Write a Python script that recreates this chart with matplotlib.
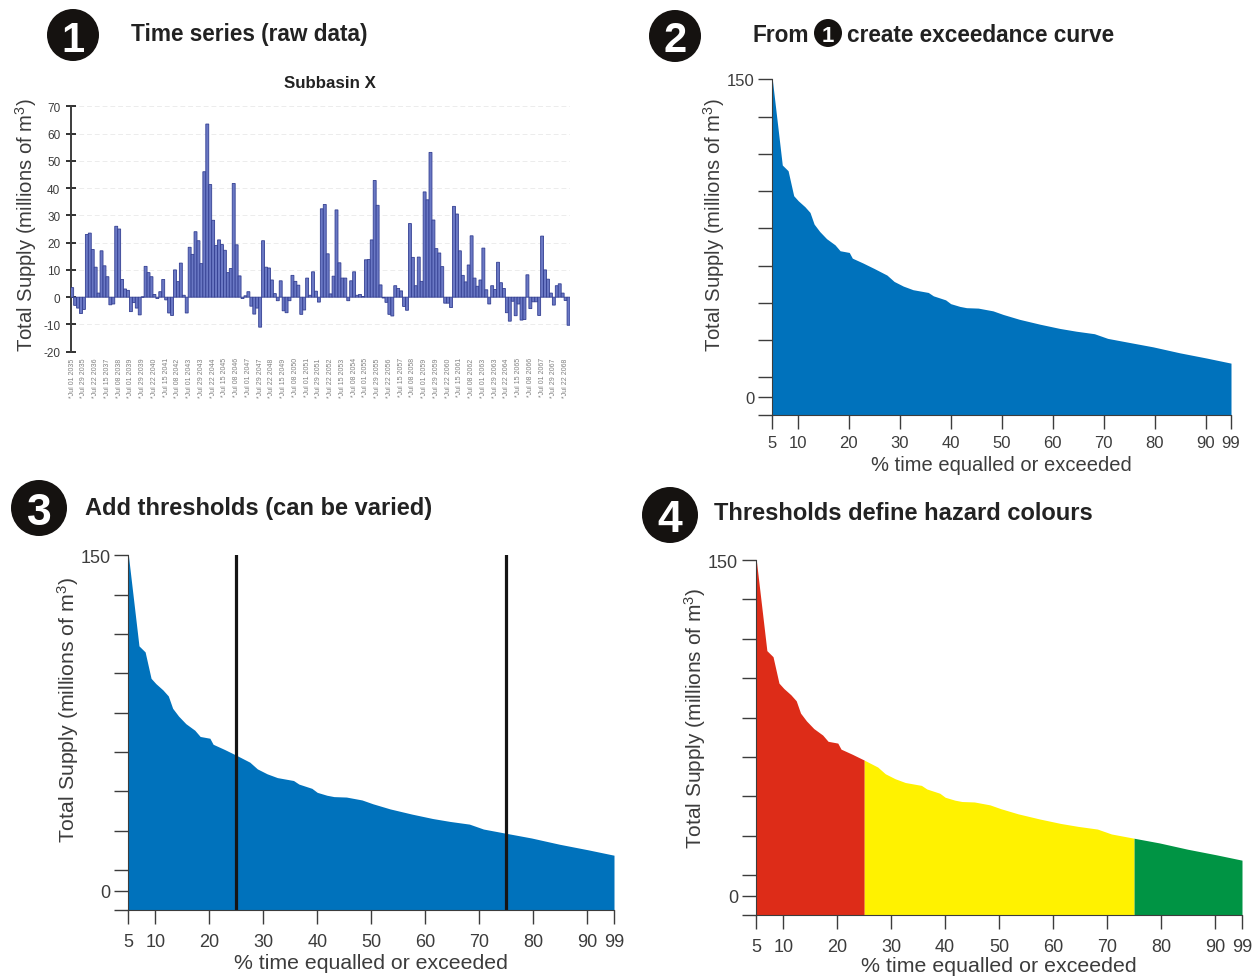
import numpy as np
import matplotlib
matplotlib.use("Agg")
import matplotlib.pyplot as plt
from matplotlib.patches import Circle

plt.rcParams["font.family"] = ["Liberation Sans", "DejaVu Sans"]
plt.rcParams["mathtext.fontset"] = "custom"
plt.rcParams["mathtext.rm"] = "Liberation Sans"
plt.rcParams["mathtext.default"] = "regular"
plt.rcParams["axes.unicode_minus"] = False

W, H = 1257, 979

# panel 1: raw supply per time step
supply = [3.5, -3, -4, -6, -4.5, 23, 23.5, 17.5, 11, 1.5,
          17, 11.5, 7.5, -2.8, -2.5, 26, 25, 6.5, 3, 2.5,
          -5.3, -2, -4, -6.5, 0.1, 11.3, 9, 7.5, 1, -0.5,
          2, 6.5, -1, -5.8, -6.7, 10, 5.7, 12.5, 0.7, -5.8,
          18.3, 15.7, 24, 20.7, 12.3, 46, 63.5, 41.3, 28.2, 19,
          21, 19.3, 17.2, 9, 10.5, 41.7, 19.2, 7.8, -0.5, 0.5,
          2, -3.3, -6.2, -4, -11, 20.7, 11, 10.7, 6.3, 1.3,
          -1.3, 6, -5, -5.7, -1.3, 8, 5.8, 4.4, -6.3, -4.7,
          7, 0.7, 9.3, 2.2, -1.8, 32.4, 34, 15.9, 1.2, 7.7,
          32, 12.6, 7, 7, -1.3, 6, 9.3, 0.7, 1, 0.2,
          13.7, 13.8, 21, 42.8, 33.7, 4.5, -0.3, -1.9, -6.3, -6.9,
          4.2, 3.2, 2.3, -3.4, -4.8, 27, 14.6, 4.2, 14.7, 5.8,
          38.6, 35.7, 53.1, 28.3, 17.8, 16.2, 11.2, -2.2, -2.2, -3.8,
          33.3, 30.5, 17, 8, 5.6, 11.8, 22.5, 7, 4, 6.3,
          18, 2.7, -2.5, 4.2, 2.8, 12.8, 5.3, 3.2, -5.7, -8.8,
          -1.5, -6.8, -2.5, -8.4, -8.2, 8.2, -4.2, -1.7, -1.7, -6.7,
          22.4, 10, 6.6, 1.5, -2.9, 4.2, 4.9, 1.5, -1.2, -10.3]
date_labels = ["*Jul 01 2035", "*Jul 29 2035", "*Jul 22 2036", "*Jul 15 2037", "*Jul 08 2038",
               "*Jul 01 2039", "*Jul 29 2039", "*Jul 22 2040", "*Jul 15 2041", "*Jul 08 2042",
               "*Jul 01 2043", "*Jul 29 2043", "*Jul 22 2044", "*Jul 15 2045", "*Jul 08 2046",
               "*Jul 01 2047", "*Jul 29 2047", "*Jul 22 2048", "*Jul 15 2049", "*Jul 08 2050",
               "*Jul 01 2051", "*Jul 29 2051", "*Jul 22 2052", "*Jul 15 2053", "*Jul 08 2054",
               "*Jul 01 2055", "*Jul 29 2055", "*Jul 22 2056", "*Jul 15 2057", "*Jul 08 2058",
               "*Jul 01 2059", "*Jul 29 2059", "*Jul 22 2060", "*Jul 15 2061", "*Jul 08 2062",
               "*Jul 01 2063", "*Jul 29 2063", "*Jul 22 2064", "*Jul 15 2065", "*Jul 08 2066",
               "*Jul 01 2067", "*Jul 29 2067", "*Jul 22 2068"]

# panels 2-4: exceedance curve
pct = [5, 6.96, 8.1, 9.2, 10.1, 11.4, 12.4, 13.2, 14.3, 15.65,
       17.3, 18.3, 20.1, 20.7, 22.8, 25, 27.5, 28.9, 30.7, 32.6,
       35.6, 36.6, 39, 40, 41.8, 43.1, 45.4, 48.3, 50.3, 53.5,
       57.5, 61.4, 64.6, 68.2, 70.8, 75, 79.7, 84.9, 90.4, 99]
flow = [150, 109.5, 106.8, 95, 92.6, 89.8, 87.1, 81.6, 78.1, 74.7,
        71.8, 69, 68.2, 65.5, 63.2, 60.6, 57.5, 54.5, 52.3, 50.6,
        49.3, 47.7, 45.8, 44, 42.7, 42.1, 41.9, 40.6, 38.9, 36.6,
        34.3, 32.3, 31, 29.8, 27.6, 25.7, 23.6, 20.8, 18.3, 15.9]
pct_ticks = [5, 10, 20, 30, 40, 50, 60, 70, 80, 90, 99]
supply_ticks = [150, 132.4, 114.8, 97.2, 79.6, 62, 44.4, 26.8, 9.2, 0, -8.6]
thresholds = [25, 75]

pct = np.array(pct)
flow = np.array(flow)

BLUE = "#0072bc"
RED = "#dd2c18"
YELLOW = "#fff200"
GREEN = "#009444"
DARK = "#222222"
GREY = "#3c3c3c"
YLABEL = "Total Supply (millions of m$^{3}$)"


def fwd(x):
    # last stretch of the axis (90-99) is squeezed
    return np.interp(x, [0, 90, 99], [0, 90, 95])


def inv(x):
    return np.interp(x, [0, 90, 95], [0, 90, 99])


def box(fig, l, r, t, b):
    return fig.add_axes([l / W, 1 - b / H, (r - l) / W, (b - t) / H])


def curve_axes(fig, l, r, t, b, fs, xlab_fs, ylab_fs, ylab_x, ylab_y, xlab_y, xpad):
    ax = box(fig, l, r, t, b)
    ax.set_xscale("function", functions=(fwd, inv))
    ax.set_xlim(5, 99)
    ax.set_ylim(-8.6, 150)
    ax.set_xticks(pct_ticks)
    ax.set_xticklabels([str(p) for p in pct_ticks])
    ax.xaxis.set_minor_locator(plt.NullLocator())
    ax.set_yticks(supply_ticks)
    ax.set_yticklabels(["150" if v == 150 else "0" if v == 0 else "" for v in supply_ticks])
    ax.tick_params(axis="both", length=10, width=1.0, color=GREY, labelcolor=GREY,
                   labelsize=fs, pad=3)
    ax.tick_params(axis="x", pad=xpad)
    ax.spines["top"].set_visible(False)
    ax.spines["right"].set_visible(False)
    ax.spines["left"].set_color(GREY)
    ax.spines["bottom"].set_color(GREY)
    ax.set_xlabel("% time equalled or exceeded", fontsize=xlab_fs, color=GREY)
    ax.xaxis.set_label_coords(0.5, (b - xlab_y) / (b - t), transform=ax.transAxes)
    ax.xaxis.label.set_va("center")
    ax.set_ylabel(YLABEL, fontsize=ylab_fs, color=GREY)
    ax.yaxis.set_label_coords((ylab_x - l) / (r - l), (b - ylab_y) / (b - t), transform=ax.transAxes)
    ax.yaxis.label.set_va("center")
    return ax


fig = plt.figure(figsize=(W / 100, H / 100), dpi=100)

# 1 - bars
ax1 = box(fig, 70.7, 570, 107.3, 352.7)
pos = np.arange(len(supply)) + 0.5
bars = ax1.bar(pos, supply, width=1.0, color="#6a78c4", edgecolor="#333f92", linewidth=0.6, zorder=3)
for p in bars:
    p.set_snap(False)
ax1.set_xlim(0, len(supply))
ax1.set_ylim(-20, 70)
ax1.set_yticks(np.arange(-20, 71, 10))
ax1.set_xticks(pos[::4])
ax1.set_xticklabels(date_labels, rotation=90, fontsize=5, color="#808080")
ax1.tick_params(axis="x", length=0, pad=4)
ax1.tick_params(axis="y", which="major", length=7, width=1.3, direction="inout",
                color=DARK, labelsize=8.5, labelcolor=GREY, pad=4)
ax1.grid(axis="y", color="#ececec", linestyle=(0, (5, 3)), linewidth=0.7, zorder=0)
for s in ["top", "right", "bottom"]:
    ax1.spines[s].set_visible(False)
ax1.spines["left"].set_color(GREY)
ax1.spines["left"].set_linewidth(1.4)
ax1.set_ylabel(YLABEL, fontsize=14.6, color=GREY)
ax1.yaxis.set_label_coords((26 - 70.7) / 499.3, (352.7 - 225) / 245.4, transform=ax1.transAxes)
ax1.yaxis.label.set_va("center")
ax1.set_title("Subbasin X", fontsize=12.2, fontweight="bold", color=DARK, y=1.077, pad=0,
              x=(329.5 - 70.7) / 499.3)

# 2 - exceedance curve
ax2 = curve_axes(fig, 772.3, 1231, 80.3, 416, 12, 14.5, 14.6, 714, 225, 466, 4.5)
ax2.fill_between(pct, flow, -8.6, color=BLUE, linewidth=0)

# 3 - thresholds
ax3 = curve_axes(fig, 128.4, 614, 556.3, 911, 13, 15.3, 15.3, 68, 710, 964, 6.5)
ax3.fill_between(pct, flow, -8.6, color=BLUE, linewidth=0)
for th in thresholds:
    ax3.axvline(th, color="#151515", linewidth=2.3)

# 4 - hazard colours
ax4 = curve_axes(fig, 756.3, 1242, 561, 916, 13, 15.4, 15, 695, 718, 967, 6.5)
ax4.fill_between(pct, flow, -8.6, where=pct <= thresholds[0], color=RED, linewidth=0)
ax4.fill_between(pct, flow, -8.6, where=(pct >= thresholds[0]) & (pct <= thresholds[1]),
                 color=YELLOW, linewidth=0)
ax4.fill_between(pct, flow, -8.6, where=pct >= thresholds[1], color=GREEN, linewidth=0)

# overlay in pixel coordinates for headings and number badges
ov = fig.add_axes([0, 0, 1, 1], zorder=10)
ov.set_xlim(0, W)
ov.set_ylim(H, 0)
ov.axis("off")
ov.patch.set_alpha(0)


def badge(x, y, r, num, fs):
    ov.add_patch(Circle((x, y), r, color="#151210", linewidth=0))
    ov.text(x, y, num, color="white", fontsize=fs, fontweight="bold", ha="center", va="center_baseline")


badge(73, 36, 26, "1", 30)
badge(675, 37, 26, "2", 30)
badge(39, 509, 28, "3", 32)
badge(670, 516, 28, "4", 32)
badge(828, 34, 14, "1", 16)

title_kw = dict(fontweight="bold", color=DARK, va="center", ha="left")
ov.text(131, 35, "Time series (raw data)", fontsize=16.3, **title_kw)
ov.text(752, 35, "From", fontsize=16.3, **title_kw)
ov.text(847, 35, "create exceedance curve", fontsize=16.3, **title_kw)
ov.text(85, 508, "Add thresholds (can be varied)", fontsize=17, **title_kw)
ov.text(714, 514, "Thresholds define hazard colours", fontsize=17, **title_kw)

fig.savefig("out.png", dpi=100)
